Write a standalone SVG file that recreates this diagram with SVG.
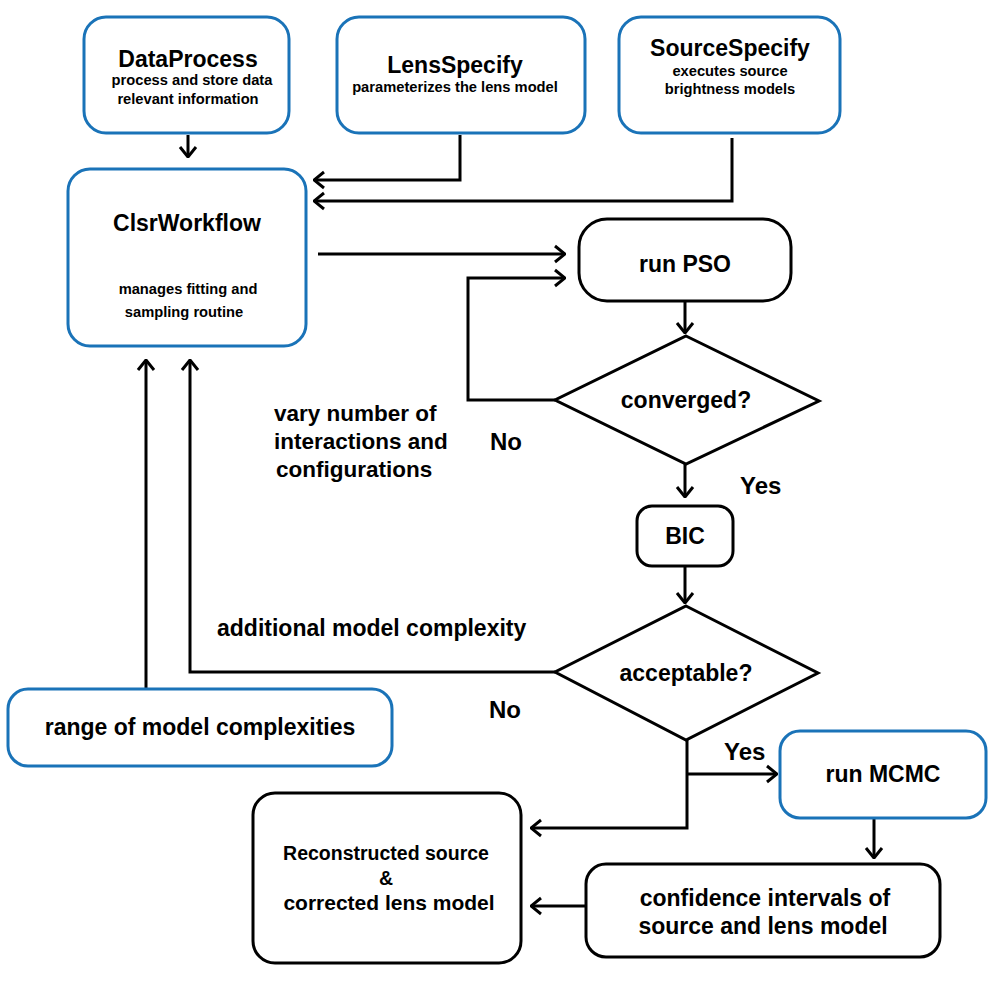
<svg xmlns="http://www.w3.org/2000/svg" width="996" height="983" viewBox="0 0 996 983">
<defs>
<style>
.blue{fill:#fff;stroke:#1a73b8;stroke-width:3}
.blk{fill:#fff;stroke:#000;stroke-width:3}
.t{font-family:"Liberation Sans",Arial,sans-serif;font-weight:bold;fill:#000;text-anchor:middle}
.big{font-size:23px}
.sm{font-size:14.7px}
.lbl{font-family:"Liberation Sans",Arial,sans-serif;font-weight:bold;fill:#000;font-size:22.5px}
.yn{font-family:"Liberation Sans",Arial,sans-serif;font-weight:bold;fill:#000;font-size:24px}
.c{fill:none;stroke:#000;stroke-width:3}
</style>
<marker id="ah" viewBox="0 0 12 20" refX="11" refY="10" markerWidth="12" markerHeight="20" markerUnits="userSpaceOnUse" orient="auto">
<path d="M1,2 L11,10 L1,18" fill="none" stroke="#000" stroke-width="3"/>
</marker>
</defs>
<rect width="996" height="983" fill="#fff"/>
<g id="connectors">
<path class="c" d="M188,135 V157" marker-end="url(#ah)"/>
<path class="c" d="M460,135 V180 H314" marker-end="url(#ah)"/>
<path class="c" d="M732,138 V201 H314" marker-end="url(#ah)"/>
<path class="c" d="M318,254 H565" marker-end="url(#ah)"/>
<path class="c" d="M555,400 H468 V278 H565" marker-end="url(#ah)"/>
<path class="c" d="M685,301 V333" marker-end="url(#ah)"/>
<path class="c" d="M685,464 V497" marker-end="url(#ah)"/>
<path class="c" d="M685,566 V603" marker-end="url(#ah)"/>
<path class="c" d="M555,672 H190 V360" marker-end="url(#ah)"/>
<path class="c" d="M146,689 V360" marker-end="url(#ah)"/>
<path class="c" d="M687,740 V828 H531" marker-end="url(#ah)"/>
<path class="c" d="M687,774 H777" marker-end="url(#ah)"/>
<path class="c" d="M874,818 V858" marker-end="url(#ah)"/>
<path class="c" d="M586,906 H531" marker-end="url(#ah)"/>
</g>
<g id="DataProcess">
<rect class="blue" x="84" y="17" width="205" height="116" rx="22"/>
<text class="t big" x="188" y="67">DataProcess</text>
<text class="t sm" x="192" y="85">process and store data</text>
<text class="t sm" x="188" y="104">relevant information</text>
</g>
<g id="LensSpecify">
<rect class="blue" x="337" y="17" width="248" height="116" rx="22"/>
<text class="t big" x="455" y="73">LensSpecify</text>
<text class="t sm" x="455" y="92">parameterizes the lens model</text>
</g>
<g id="SourceSpecify">
<rect class="blue" x="619" y="17" width="221" height="116" rx="22"/>
<text class="t big" x="730" y="56">SourceSpecify</text>
<text class="t sm" x="730" y="76">executes source</text>
<text class="t sm" x="730" y="94">brightness models</text>
</g>
<g id="ClsrWorkflow">
<rect class="blue" x="68" y="169" width="238" height="177" rx="22"/>
<text class="t big" x="187" y="231">ClsrWorkflow</text>
<text class="t sm" x="188" y="294">manages fitting and</text>
<text class="t sm" x="184" y="317">sampling routine</text>
</g>
<g id="runPSO">
<rect class="blk" x="579" y="219" width="212" height="82" rx="28"/>
<text class="t big" x="685" y="272">run PSO</text>
</g>
<g id="converged">
<polygon class="blk" points="686,336 819,401 686,464 555,400"/>
<text class="t big" x="686" y="408">converged?</text>
</g>
<g id="BIC">
<rect class="blk" x="637" y="506" width="96" height="60" rx="15"/>
<text class="t big" x="685" y="544">BIC</text>
</g>
<g id="acceptable">
<polygon class="blk" points="686,606 818,673 686,740 555,672"/>
<text class="t big" x="686" y="681">acceptable?</text>
</g>
<g id="range">
<rect class="blue" x="8" y="689" width="384" height="77" rx="20"/>
<text class="t big" x="200" y="735">range of model complexities</text>
</g>
<g id="runMCMC">
<rect class="blue" x="780" y="731" width="206" height="87" rx="20"/>
<text class="t big" x="883" y="782">run MCMC</text>
</g>
<g id="reconstructed">
<rect class="blk" x="253" y="793" width="268" height="170" rx="22"/>
<text class="t" style="font-size:19.5px" x="386" y="860">Reconstructed source</text>
<text class="t" style="font-size:19.5px" x="386" y="885">&amp;</text>
<text class="t" style="font-size:21px" x="389" y="910">corrected lens model</text>
</g>
<g id="confidence">
<rect class="blk" x="586" y="864" width="354" height="93" rx="20"/>
<text class="t big" x="765" y="906">confidence intervals of</text>
<text class="t big" x="763" y="934">source and lens model</text>
</g>
<g id="labels">
<text class="lbl" x="274" y="421">vary number of</text>
<text class="lbl" x="274" y="449">interactions and</text>
<text class="lbl" x="276" y="477">configurations</text>
<text class="yn" x="490" y="450">No</text>
<text class="yn" x="740" y="494">Yes</text>
<text class="lbl" style="font-size:23px" x="217" y="636">additional model complexity</text>
<text class="yn" x="489" y="718">No</text>
<text class="yn" x="724" y="760">Yes</text>
</g>
</svg>
